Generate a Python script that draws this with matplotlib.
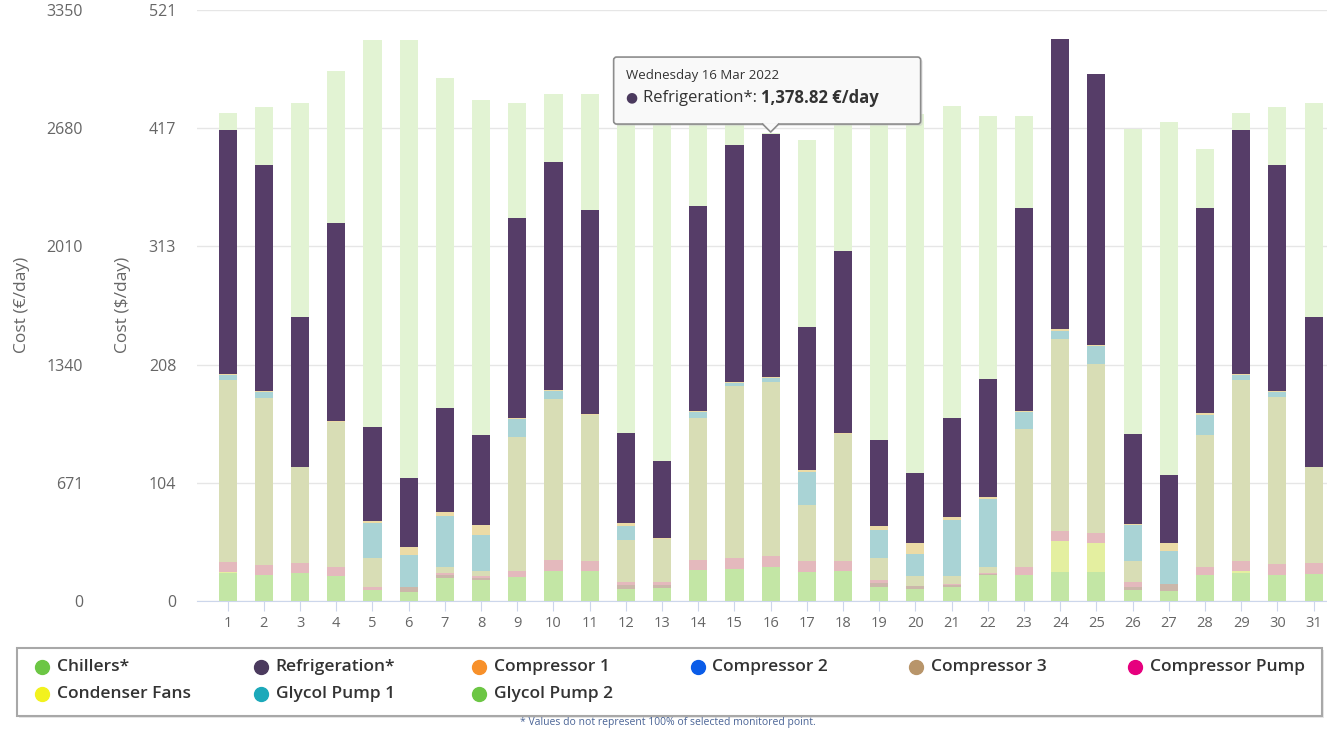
import numpy as np
import matplotlib.pyplot as plt
from matplotlib.lines import Line2D
from matplotlib.patches import FancyBboxPatch, Polygon
from matplotlib.transforms import IdentityTransform

plt.rcParams['font.family'] = ['Open Sans', 'DejaVu Sans']

days = list(range(1, 32))

# €/day values, stacked bottom -> top
glycol_pump_2 = [157, 150, 160, 140, 62, 53, 130, 120, 134, 171, 171, 70, 75, 175, 180, 195,
                 165, 170, 80, 70, 80, 145, 145, 165, 165, 60, 58, 150, 160, 150, 155]
condenser_fans = [8, 0, 0, 0, 0, 0, 0, 0, 0, 0, 0, 0, 0, 0, 0, 0,
                  0, 0, 0, 0, 0, 0, 0, 176, 161, 0, 0, 0, 10, 0, 0]
compressor_2 = [0, 0, 0, 0, 0, 28, 15, 8, 0, 0, 0, 20, 15, 0, 0, 0,
                0, 0, 20, 15, 8, 8, 0, 0, 0, 22, 38, 0, 0, 0, 0]
compressor_pump = [58, 53, 53, 52, 19, 0, 15, 13, 37, 64, 53, 17, 17, 60, 61, 61,
                   59, 54, 17, 0, 8, 7, 47, 58, 58, 25, 0, 42, 54, 57, 58]
compressor_3 = [1030, 949, 545, 820, 161, 0, 32, 30, 757, 911, 831, 241, 243, 804, 975, 988,
                320, 721, 128, 54, 43, 32, 783, 1084, 960, 117, 0, 747, 1029, 950, 545]
glycol_pump_1 = [27, 30, 0, 0, 199, 180, 288, 202, 101, 42, 0, 79, 0, 33, 22, 18,
                 186, 0, 160, 128, 320, 388, 96, 50, 100, 205, 188, 118, 27, 25, 0]
compressor_1 = [7, 7, 4, 6, 13, 47, 26, 60, 10, 7, 6, 15, 6, 6, 6, 6,
                10, 5, 22, 64, 17, 7, 7, 10, 7, 8, 47, 10, 7, 7, 4]
refrigeration = [1384, 1282, 849, 1122, 532, 389, 589, 506, 1131, 1291, 1158, 512, 440, 1163, 1338, 1378.82,
                 811, 1035, 484, 395, 559, 672, 1152, 1643, 1537, 508, 384, 1163, 1384, 1282, 849]
# chillers total is drawn behind the stack
chillers = [2765, 2799, 2822, 3004, 3180, 3180, 2964, 2839, 2822, 2873, 2873, 2860, 2850, 2840, 2820, 2650,
            2612, 2800, 2790, 2760, 2805, 2748, 2748, 3050, 2900, 2674, 2714, 2561, 2765, 2799, 2822]

eur_ticks = [0, 671, 1340, 2010, 2680, 3350]
usd_labels = ['0', '104', '208', '313', '417', '521']

stack = [
    (glycol_pump_2, '#c3e6a5'),
    (condenser_fans, '#e4efa0'),
    (compressor_2, '#cbb7aa'),
    (compressor_pump, '#e4b9bd'),
    (compressor_3, '#d8ddb5'),
    (glycol_pump_1, '#a9d3d5'),
    (compressor_1, '#ecdba6'),
    (refrigeration, '#563d68'),
]

legend_items = [
    ('Chillers*', '#6cc644'), ('Refrigeration*', '#4b3a5e'), ('Compressor 1', '#f7902a'),
    ('Compressor 2', '#0a5ce8'), ('Compressor 3', '#b8956a'), ('Compressor Pump', '#e6007e'),
    ('Condenser Fans', '#f2f21e'), ('Glycol Pump 1', '#1ca9ba'), ('Glycol Pump 2', '#6cc644'),
]

W, H = 1327, 729
fig = plt.figure(figsize=(W / 100, H / 100), dpi=100)
ax = fig.add_axes([197 / W, (H - 601) / H, (W - 197) / W, 591 / H])

x = np.array(days)
bw = 0.5
ax.bar(x, chillers, width=bw, color='#e2f3d3', zorder=2)
bottom = np.zeros(len(days))
for vals, col in stack:
    ax.bar(x, vals, width=bw, bottom=bottom, color=col, zorder=3)
    bottom += np.array(vals)

ax.set_xlim(0.152, 31.37)
ax.set_ylim(0, 3350)
ax.set_xticks(x)
ax.set_xticklabels([str(d) for d in days])
ax.set_yticks(eur_ticks)
ax.set_yticklabels([str(t) for t in eur_ticks])
ax.grid(axis='y', color='#e6e6e6', lw=1, zorder=0)
ax.set_axisbelow(True)
for s in ['top', 'right', 'left']:
    ax.spines[s].set_visible(False)
ax.spines['bottom'].set_color('#ccd6eb')
ax.tick_params(axis='x', length=7, color='#ccd6eb', labelcolor='#666666', labelsize=10.5, pad=4)
ax.tick_params(axis='y', length=0, labelcolor='#666666', labelsize=11.5, pad=82)

sec = ax.secondary_yaxis('left')
sec.set_yticks(eur_ticks)
sec.set_yticklabels(usd_labels)
sec.spines['left'].set_visible(False)
sec.tick_params(axis='y', length=0, labelcolor='#666666', labelsize=11.5, pad=15)

fig.text(22 / W, 1 - 305 / H, 'Cost (€/day)', rotation=90, ha='center', va='center',
         color='#666666', fontsize=12.5)
fig.text(123 / W, 1 - 305 / H, 'Cost ($/day)', rotation=90, ha='center', va='center',
         color='#666666', fontsize=12.5)

# legend box
idt = IdentityTransform()
fig.add_artist(FancyBboxPatch((19, H - 718), 1305, 68, boxstyle='square,pad=0',
                              transform=idt, facecolor='#d8d8d8', edgecolor='none', alpha=0.6))
fig.add_artist(FancyBboxPatch((17, H - 716), 1305, 68, boxstyle='square,pad=0',
                              transform=idt, facecolor='white', edgecolor='#a8a8a8', lw=1.5))
for i, (name, col) in enumerate(legend_items):
    r, c = divmod(i, 6)
    px = 42 + c * 218.5
    py = H - (667 + r * 27)
    fig.add_artist(Line2D([px], [py], marker='o', ms=10, color=col, mec=col, transform=idt))
    fig.text(px + 15, py, name, transform=idt, ha='left', va='center',
             fontsize=12.5, fontweight='semibold', color='#333333')

fig.text(668 / W, 1 - 722 / H, '* Values do not represent 100% of selected monitored point.',
         ha='center', va='center', fontsize=7.5, color='#4a6496')

# tooltip anchored on day 16 refrigeration top
top16 = float(np.sum([v[15] for v, _ in stack]))
tx, ty = ax.transData.transform((16, top16))
ty += 2
bx0, by0 = tx - 157, ty + 8
bw_px, bh_px = 307, 67
fig.add_artist(FancyBboxPatch((bx0 + 2, by0 - 2), bw_px, bh_px, boxstyle='round,pad=0,rounding_size=3',
                              transform=idt, facecolor='#cccccc', edgecolor='none', alpha=0.5, zorder=10))
fig.add_artist(FancyBboxPatch((bx0, by0), bw_px, bh_px, boxstyle='round,pad=0,rounding_size=3',
                              transform=idt, facecolor='#f9f9f9', edgecolor='#8c8c8c', lw=1.2, zorder=11))
fig.add_artist(Polygon([(tx - 8, by0 + 1), (tx + 8, by0 + 1), (tx, ty)], closed=True,
                       transform=idt, facecolor='#f9f9f9', edgecolor='none', zorder=12))
fig.add_artist(Line2D([tx - 8, tx, tx + 8], [by0, ty, by0], color='#8c8c8c', lw=1.2,
                      transform=idt, zorder=13))

fig.text(bx0 + 12, by0 + bh_px - 18, 'Wednesday 16 Mar 2022', transform=idt, ha='left', va='center',
         fontsize=9.5, color='#333333', zorder=14)
renderer = fig.canvas.get_renderer()
ly = by0 + bh_px - 41
t1 = fig.text(bx0 + 12, ly, '●', transform=idt, ha='left', va='center', fontsize=10,
              color='#4b3a5e', zorder=14)
xe = t1.get_window_extent(renderer).x1 + 5
t2 = fig.text(xe, ly, 'Refrigeration*: ', transform=idt, ha='left', va='center', fontsize=12,
              color='#333333', zorder=14)
xe = t2.get_window_extent(renderer).x1
fig.text(xe, ly, '{:,.2f} €/day'.format(refrigeration[15]), transform=idt, ha='left', va='center',
         fontsize=12, fontweight='bold', color='#333333', zorder=14)

fig.savefig('out.png', dpi=100)
